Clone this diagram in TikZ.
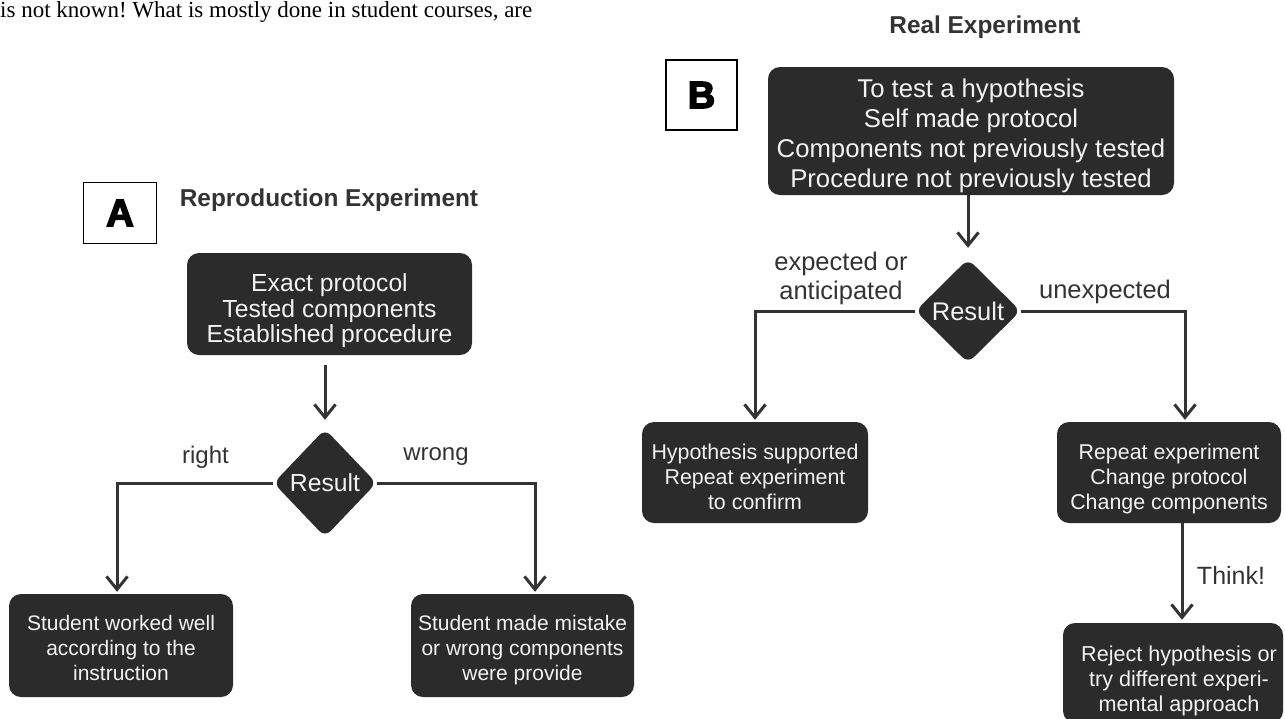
\documentclass[tikz,border=0pt]{standalone}
\usepackage{fontspec}
\setmainfont{Liberation Sans}
\newfontfamily\bodyserif{Liberation Serif}
\newfontfamily\heavysans[FakeBold=4]{Liberation Sans Bold}
\usetikzlibrary{shapes.geometric,arrows.meta}
\definecolor{boxfill}{HTML}{2B2B2B}
\definecolor{ink}{HTML}{333333}
\definecolor{boxtext}{HTML}{F2F2F2}
% centred lines, lowered inside their frame without changing its size
\newcommand\boxlines[2]{\raisebox{#1}[\height][\depth]{\begin{tabular}{@{}c@{}}#2\end{tabular}}}

\begin{document}
\begin{tikzpicture}[x=1pt,y=-1pt,
  flowbox/.style={rectangle, rounded corners=12pt, fill=boxfill, text=boxtext, inner sep=0pt},
  decision/.style={diamond, aspect=1, fill=boxfill, text=boxtext,
    rounded corners=8pt, inner sep=0pt},
  tag/.style={text=ink, align=center},
  heading/.style={text=ink, font=\bfseries\fontsize{24.4}{28}\selectfont},
  letterbox/.style={draw=black, line width=1.5pt, fill=white, inner sep=0pt,
    font=\heavysans\fontsize{38}{38}\selectfont},
  link/.style={draw=ink, line width=3pt},
  flow/.style={link, -{Straight Barb[length=13pt,width=21pt]}}
]
\useasboundingbox (0,0) rectangle (1285,718);

% running text of the page above the figure
\node[anchor=base west, inner sep=0pt, text=black,
  font=\bodyserif\fontsize{23}{26}\selectfont] (prose) at (0,17)
  {is not known!\ What is mostly done in student courses, are};

% ---------------- part A ----------------
\node[letterbox, minimum width=73pt, minimum height=61pt] (tagA) at (120,213) {A};
\node[heading] (titleA) at (329,200) {Reproduction Experiment};
\node[flowbox, minimum width=285pt, minimum height=102pt,
  font=\fontsize{24.7}{25}\selectfont] (startA) at (329.5,304)
  {\boxlines{-8pt}{Exact protocol\\Tested components\\Established procedure}};
\node[decision, minimum width=103pt, minimum height=108pt,
  font=\fontsize{24.7}{25}\selectfont] (resA) at (325,483) {Result};
\node[flowbox, minimum width=224pt, minimum height=103pt,
  font=\fontsize{21}{25}\selectfont] (goodA) at (121,645.5)
  {\boxlines{-5pt}{Student worked well\\according to the\\instruction}};
\node[flowbox, minimum width=223pt, minimum height=103pt,
  font=\fontsize{21}{25}\selectfont] (badA) at (522.5,645.5)
  {\boxlines{-5pt}{Student made mistake\\or wrong components\\were provide}};
\node[tag, font=\fontsize{24}{28}\selectfont] (rightA) at (205.5,457) {right};
\node[tag, font=\fontsize{24}{28}\selectfont] (wrongA) at (436,457) {wrong};

\draw[flow, shorten <=10pt, shorten >=9pt] (startA.south -| resA.north) -- (resA.north);
\draw[flow, shorten >=2pt] (resA.west) -| (goodA.north -| 117,0);
\draw[flow, shorten >=2pt] (resA.east) -| (badA.north -| 535,0);

% ---------------- part B ----------------
\node[letterbox, minimum width=71pt, minimum height=70pt] (tagB) at (701.5,95) {B};
\node[heading] (titleB) at (985,27) {Real Experiment};
\node[flowbox, minimum width=406pt, minimum height=128pt,
  font=\fontsize{25.7}{30}\selectfont] (startB) at (971,131)
  {\boxlines{-5pt}{To test a hypothesis\\Self made protocol\\Components not previously tested\\Procedure not previously tested}};
\node[decision, minimum width=105pt, minimum height=104pt,
  font=\fontsize{25.5}{26}\selectfont] (resB) at (968,311) {Result};
\node[flowbox, minimum width=226pt, minimum height=101pt,
  font=\fontsize{21.4}{25}\selectfont] (okB) at (755,472.5)
  {\boxlines{-7pt}{Hypothesis supported\\Repeat experiment\\to confirm}};
\node[flowbox, minimum width=224pt, minimum height=101pt,
  font=\fontsize{21.4}{25}\selectfont] (redoB) at (1169,472.5)
  {\boxlines{-7pt}{Repeat experiment\\Change protocol\\Change components}};
\node[flowbox, minimum width=220pt, minimum height=100pt,
  font=\fontsize{21.6}{25}\selectfont] (rejectB) at (1173,673)
  {\boxlines{-8pt}{\hspace*{12pt}Reject hypothesis or\\\hspace*{12pt}try different experi-\\\hspace*{12pt}mental approach}};
\node[tag, font=\fontsize{25.5}{29}\selectfont] (expB) at (841,278) {expected or\\anticipated};
\node[tag, font=\fontsize{25.5}{29}\selectfont] (unexpB) at (1105,292) {unexpected};
\node[tag, font=\fontsize{25}{29}\selectfont] (thinkB) at (1231,575) {Think!};

\draw[flow, shorten >=11pt] (startB.south -| resB.north) -- (resB.north);
\draw[flow, shorten >=2pt] (resB.west) -| (okB.north);
\draw[flow, shorten >=2pt] (resB.east) -| (redoB.north -| 1185,0);
\draw[flow, shorten >=3pt] (redoB.south -| 1182,0) -- (rejectB.north -| 1182,0);
\end{tikzpicture}
\end{document}
